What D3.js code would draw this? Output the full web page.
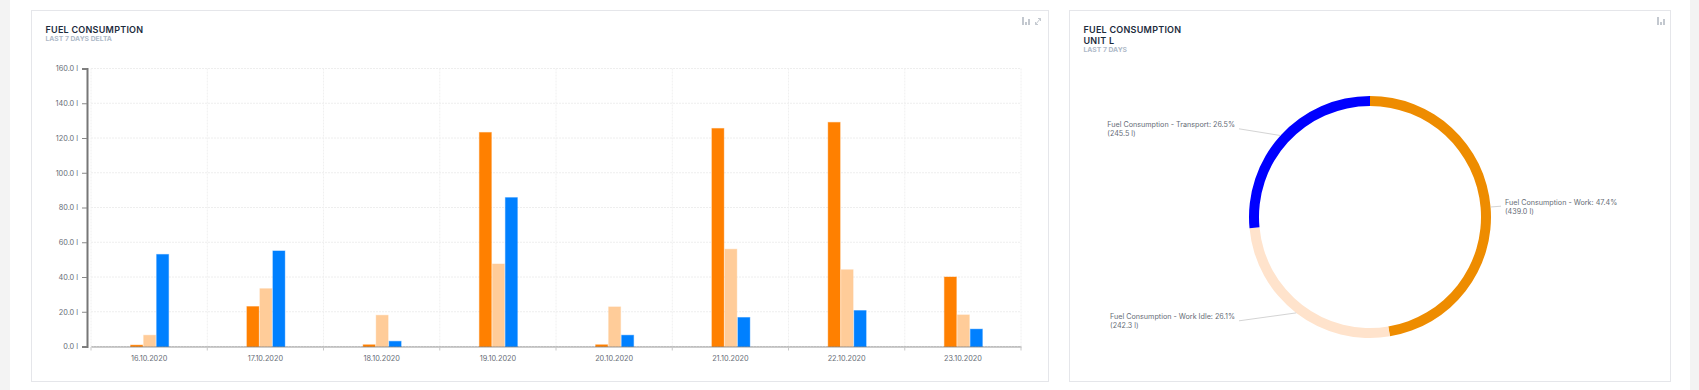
<!DOCTYPE html>
<html>
<head>
<meta charset="utf-8">
<script src="https://cdn.jsdelivr.net/npm/d3@7/dist/d3.min.js"></script>
<style>
    html, body { margin: 0; padding: 0; background: #fff; overflow: hidden; }
    svg { display: block; }
    text { font-family: Inter, "Noto Sans", sans-serif; }
    .title { font-size: 9px; font-weight: 600; fill: #1c2b3c; letter-spacing: 0.25px; }
    .subtitle { font-size: 6.8px; font-weight: 700; fill: #aeb9c8; }
    .axis text { font-size: 7.3px; fill: #666c76; }
    .pie-label { font-size: 7.2px; fill: #666c76; }
</style>
</head>
<body>
<div id="chart"></div>
<script>
// bar chart values, litres per day
const days = ["16.10.2020", "17.10.2020", "18.10.2020", "19.10.2020", "20.10.2020", "21.10.2020", "22.10.2020", "23.10.2020"];
const workValues = [0.8, 23, 1, 123.2, 1, 125.5, 129, 40];
const idleValues = [6.5, 33.3, 18, 47.5, 22.8, 56, 44.2, 18.2];
const transportValues = [53, 55, 3, 85.7, 6.5, 16.7, 20.7, 10];
const yTicks = [0, 20, 40, 60, 80, 100, 120, 140, 160];

// donut values
const pieNames = ["Fuel Consumption - Work", "Fuel Consumption - Work Idle", "Fuel Consumption - Transport"];
const pieValues = [439.0, 242.3, 245.5];
const piePercents = ["47.4%", "26.1%", "26.5%"];
const pieColors = ["#ee8c00", "#ffe3cc", "#0000ff"];

const barSeries = [
    {values: workValues, color: "#ff8000"},
    {values: idleValues, color: "#ffcc99"},
    {values: transportValues, color: "#0080ff"}
];

const svg = d3.select("#chart").append("svg")
    .attr("width", 1699)
    .attr("height", 390);

// page background strips
svg.append("rect").attr("width", 10).attr("height", 390).attr("fill", "#f3f3f3");
svg.append("rect").attr("x", 1690).attr("width", 9).attr("height", 390).attr("fill", "#f3f3f3");

function drawCard(x, y, w, h, titles, subtitle) {
    svg.append("rect")
        .attr("x", x + 0.5).attr("y", y + 0.5)
        .attr("width", w).attr("height", h)
        .attr("fill", "#fff")
        .attr("stroke", "#e5e6ea");

    titles.forEach((t, i) => {
        svg.append("text").attr("class", "title")
            .attr("x", x + 14.5).attr("y", y + 23 + i * 11)
            .text(t);
    });
    svg.append("text").attr("class", "subtitle")
        .attr("x", x + 14.5).attr("y", y + 30.5 + (titles.length - 1) * 11)
        .text(subtitle);
}

function drawBarIcon(x, y) {
    const g = svg.append("g").attr("transform", `translate(${x},${y})`).attr("fill", "#c3c8cf");
    [[0, 0, 2, 8], [3, 5, 2, 3], [6, 2, 2, 6]].forEach(d => {
        g.append("rect").attr("x", d[0]).attr("y", d[1]).attr("width", d[2]).attr("height", d[3]);
    });
}

drawCard(31, 10, 1017, 371, ["FUEL CONSUMPTION"], "LAST 7 DAYS DELTA");
drawCard(1069, 10, 601, 371, ["FUEL CONSUMPTION", "UNIT L"], "LAST 7 DAYS");
drawBarIcon(1022, 17);
drawBarIcon(1657, 17);

// expand icon
svg.append("path")
    .attr("d", "M1035.5 24.5 L1040.5 18.5 M1038 18.5 H1040.5 V21 M1035.5 22 V24.5 H1038")
    .attr("fill", "none")
    .attr("stroke", "#c3c8cf");

// ---- bar chart
const x0 = d3.scaleBand().domain(days).range([91, 1021]);
const x1 = d3.scaleBand().domain(d3.range(barSeries.length)).range([0, 39]);
const y = d3.scaleLinear().domain([0, 160]).range([346.5, 68.5]);

// grid
svg.append("g").selectAll("line")
    .data(yTicks)
    .join("line")
    .attr("x1", 91).attr("x2", 1021)
    .attr("y1", d => y(d)).attr("y2", d => y(d))
    .attr("stroke", "#eeeeee")
    .attr("stroke-dasharray", "2,1");

svg.append("g").selectAll("line")
    .data(days.map(d => x0(d)).concat([1021]))
    .join("line")
    .attr("x1", d => d).attr("x2", d => d)
    .attr("y1", 68.5).attr("y2", 346.5)
    .attr("stroke", "#f0f0f0")
    .attr("stroke-dasharray", "2,1");

// bars
barSeries.forEach((s, i) => {
    svg.append("g").selectAll("rect")
        .data(s.values)
        .join("rect")
        .attr("x", (d, j) => x0(days[j]) + x0.bandwidth() / 2 - 19 + x1(i) + 0.5)
        .attr("y", d => y(d))
        .attr("width", x1.bandwidth() - 1)
        .attr("height", d => y(0) - y(d))
        .attr("fill", s.color)
        .attr("stroke", s.color)
        .attr("stroke-opacity", 0.4);
});

// axes
const yAxis = svg.append("g").attr("class", "axis")
    .attr("transform", "translate(87,0)")
    .call(d3.axisLeft(y).tickValues(yTicks).tickFormat(d => d3.format(".1f")(d) + " l").tickSize(5).tickPadding(4));
yAxis.select(".domain").attr("stroke", "#777").attr("stroke-width", 2);
yAxis.selectAll(".tick line").attr("stroke", "#888");

const xAxis = svg.append("g").attr("class", "axis")
    .attr("transform", "translate(0,346.5)")
    .call(d3.axisBottom(x0).tickSize(0).tickPadding(9));
xAxis.select(".domain").attr("stroke", "#000").attr("stroke-opacity", 0.2).attr("stroke-width", 2);

svg.append("g").selectAll("line")
    .data(days.map(d => x0(d)).concat([1021]))
    .join("line")
    .attr("x1", d => d).attr("x2", d => d)
    .attr("y1", 347).attr("y2", 350.5)
    .attr("stroke", "#c8c8c8");

// ---- donut
const cx = 1370, cy = 217, outerR = 121, innerR = 111, labelR = 131;
const pie = d3.pie().sort(null)(pieValues);
const arc = d3.arc().innerRadius(innerR).outerRadius(outerR);
const donut = svg.append("g").attr("transform", `translate(${cx},${cy})`);

donut.selectAll("path")
    .data(pie)
    .join("path")
    .attr("d", arc)
    .attr("fill", (d, i) => pieColors[i]);

pie.forEach((d, i) => {
    const a = (d.startAngle + d.endAngle) / 2;
    const side = Math.sin(a) > 0 ? 1 : -1;
    const endX = side * labelR;
    const endY = -Math.cos(a) * labelR;

    donut.append("line")
        .attr("x1", Math.sin(a) * outerR).attr("y1", -Math.cos(a) * outerR)
        .attr("x2", endX).attr("y2", endY)
        .attr("stroke", "#d4d4d4");

    const line1 = donut.append("text").attr("class", "pie-label")
        .attr("y", endY - 1.5)
        .text(`${pieNames[i]}: ${piePercents[i]}`);
    const w = line1.node().getComputedTextLength();
    const textX = side > 0 ? endX + 4 : endX - 4 - w;
    line1.attr("x", textX);

    donut.append("text").attr("class", "pie-label")
        .attr("x", textX)
        .attr("y", endY + 7.5)
        .text(`(${d3.format(".1f")(pieValues[i])} l)`);
});
</script>
</body>
</html>
